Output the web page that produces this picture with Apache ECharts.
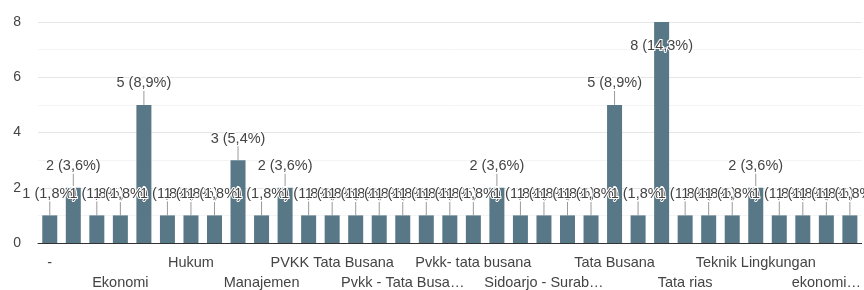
<!DOCTYPE html>
<html>
<head>
<meta charset="utf-8">
<script src="https://cdn.jsdelivr.net/npm/echarts@6/dist/echarts.min.js"></script>
<style>
  html, body { margin: 0; padding: 0; background: #fff; }
  #chart { width: 864px; height: 290px; }
</style>
</head>
<body>
<div id="chart"></div>
<script>
// jurusan / program studi (hanya tiap label ke-3 terlihat di gambar)
const categories = [
  "-", "", "", "Ekonomi", "", "", "Hukum", "", "", "Manajemen", "", "",
  "PVKK Tata Busana", "", "", "Pvkk - Tata Busa…", "", "", "Pvkk- tata busana", "", "",
  "Sidoarjo - Surab…", "", "", "Tata Busana", "", "", "Tata rias", "", "",
  "Teknik Lingkungan", "", "", "ekonomi…", ""
];
const counts = [
  1, 2, 1, 1, 5, 1, 1, 1, 3, 1, 2, 1,
  1, 1, 1, 1, 1, 1, 1, 2, 1, 1, 1, 1,
  5, 1, 8, 1, 1, 1, 2, 1, 1, 1, 1
];
const yTicks = [0, 2, 4, 6, 8];

const total = counts.reduce((a, b) => a + b, 0);
const maxVal = yTicks[yTicks.length - 1];
const FONT = "Liberation Sans, Arial, sans-serif";

// label "n (x,y%)"
function pctLabel(v) {
  return v + " (" + (v / total * 100).toFixed(1).replace(".", ",") + "%)";
}

const chart = echarts.init(document.getElementById("chart"));

const seriesData = counts.map(function (v) {
  if (v >= maxVal) {
    // bar sampai batas atas, label masuk ke dalam
    return { value: v, label: { position: "insideTop", distance: 16 } };
  }
  return v;
});

// dua sumbu x agar label tampil dua baris berselang-seling
function xAxisFor(rowPick, margin) {
  return {
    type: "category",
    position: "bottom",
    data: categories,
    axisLine: { show: rowPick === 0, lineStyle: { color: "#333", width: 1 } },
    axisTick: { show: false },
    axisLabel: {
      interval: function (i) { return i % 6 === rowPick; },
      color: "#444",
      fontSize: 14.5,
      fontFamily: FONT,
      margin: margin
    }
  };
}

chart.setOption({
  animation: false,
  textStyle: { fontFamily: FONT },
  grid: { left: 38, right: 2, top: 22, bottom: 46 },
  xAxis: [xAxisFor(0, 12), xAxisFor(3, 32)],
  yAxis: {
    type: "value",
    min: 0,
    max: maxVal,
    interval: 2,
    axisLine: { show: false },
    axisTick: { show: false },
    axisLabel: { color: "#444", fontSize: 14, margin: 17 },
    splitLine: { lineStyle: { color: "#e6e6e6" } },
    minorTick: { show: false, splitNumber: 2 },
    minorSplitLine: { show: true, lineStyle: { color: "#f4f4f4" } }
  },
  series: [
    {
      type: "bar",
      data: seriesData,
      barWidth: 15,
      itemStyle: { color: "#587887" },
      label: {
        show: true,
        position: "top",
        distance: 14,
        color: "#444",
        fontSize: 14.5,
        textBorderColor: "#fff",
        textBorderWidth: 2,
        formatter: function (p) { return pctLabel(p.value); }
      }
    },
    {
      // garis penunjuk label
      type: "custom",
      data: counts,
      z: 1,
      silent: true,
      renderItem: function (params, api) {
        const v = api.value(1);
        const top = api.coord([api.value(0), v]);
        const inside = v >= maxVal;
        const y2 = inside ? top[1] + 15 : top[1] - 14;
        return {
          type: "line",
          shape: { x1: top[0], y1: top[1], x2: top[0], y2: y2 },
          style: { stroke: inside ? "#9fb2bb" : "#9a9a9a", lineWidth: 1 },
          z2: 10
        };
      },
      encode: { x: 0, y: 1 }
    }
  ]
});
</script>
</body>
</html>
